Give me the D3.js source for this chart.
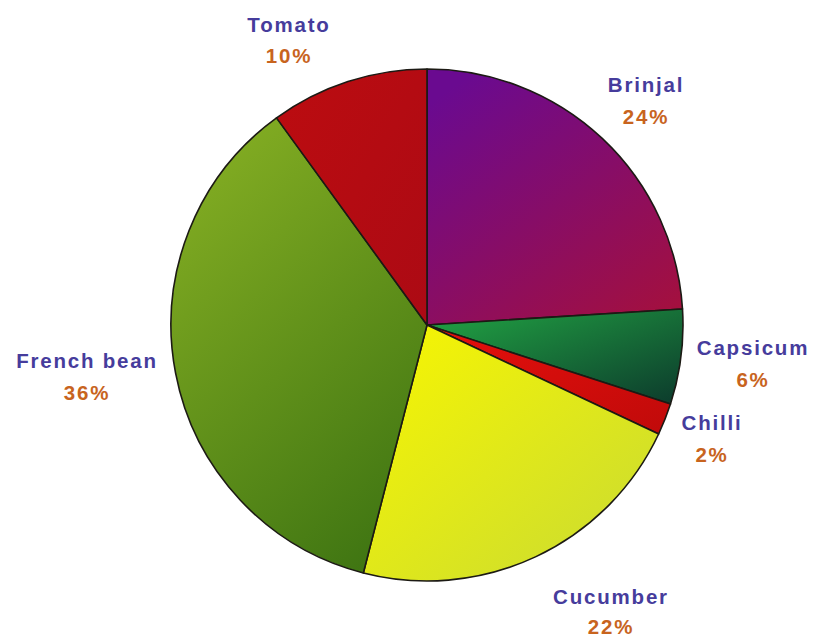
<!DOCTYPE html>
<html>
<head>
<meta charset="utf-8">
<script src="https://cdn.jsdelivr.net/npm/d3@7/dist/d3.min.js"></script>
<style>
  html, body { margin: 0; padding: 0; background: #ffffff; }
  svg { display: block; }
  .name { font-family: "Liberation Sans", Arial, sans-serif; font-weight: bold; font-size: 20.5px; letter-spacing: 1.8px; fill: #463c9c; }
  .pct  { font-family: "Liberation Sans", Arial, sans-serif; font-weight: bold; font-size: 20.5px; letter-spacing: 1.8px; fill: #c8641e; }
</style>
</head>
<body>
<script>
// Vegetable share, clockwise from 12 o'clock
const categories = ["Brinjal", "Capsicum", "Chilli", "Cucumber", "French bean", "Tomato"];
const values = [24, 6, 2, 22, 36, 10];
const percentLabels = ["24%", "6%", "2%", "22%", "36%", "10%"];

// Fill gradients per slice: [start colour, end colour]
const sliceColors = {
  "Brinjal":     ["#6a0a90", "#a4103e"],
  "Capsicum":    ["#22a644", "#0c3a2c"],
  "Chilli":      ["#e6100c", "#c00a0a"],
  "Cucumber":    ["#f8f600", "#c8da34"],
  "French bean": ["#82ac22", "#3e7412"],
  "Tomato":      ["#bc0c10", "#ac0a14"]
};
// Gradient direction per slice (x1,y1,x2,y2 as fractions of the bounding box)
const gradDir = {
  "Brinjal":     [0.2, 0.0, 0.9, 1.0],
  "Capsicum":    [0.0, 0.0, 1.0, 1.0],
  "Chilli":      [0.0, 0.0, 1.0, 1.0],
  "Cucumber":    [0.0, 0.0, 1.0, 1.0],
  "French bean": [0.3, 0.0, 0.8, 1.0],
  "Tomato":      [0.0, 0.0, 1.0, 1.0]
};
// Text anchor (centre x, baseline y of the name line) and gap to the percent line
const labelAt = {
  "Brinjal":     [646, 92, 32],
  "Capsicum":    [753, 355, 32],
  "Chilli":      [712, 430, 32],
  "Cucumber":    [611, 604, 30],
  "French bean": [87, 368, 32],
  "Tomato":      [289, 32, 31]
};

const W = 818, H = 639;
const cx = 427, cy = 325, R = 256;

const svg = d3.select("body").append("svg").attr("width", W).attr("height", H);
const defs = svg.append("defs");

const data = categories.map((c, i) => ({ name: c, value: values[i], pct: percentLabels[i] }));
const pie = d3.pie().value(d => d.value).sort(null).startAngle(0).endAngle(2 * Math.PI);
const arc = d3.arc().innerRadius(0).outerRadius(R);
const arcs = pie(data);

arcs.forEach((a, i) => {
  const dir = gradDir[a.data.name];
  const g = defs.append("linearGradient")
    .attr("id", "g" + i)
    .attr("x1", dir[0]).attr("y1", dir[1]).attr("x2", dir[2]).attr("y2", dir[3]);
  g.append("stop").attr("offset", "0%").attr("stop-color", sliceColors[a.data.name][0]);
  g.append("stop").attr("offset", "100%").attr("stop-color", sliceColors[a.data.name][1]);
});

const gPie = svg.append("g").attr("transform", `translate(${cx},${cy})`);
gPie.selectAll("path.slice")
  .data(arcs)
  .join("path")
  .attr("class", "slice")
  .attr("d", arc)
  .attr("fill", (d, i) => `url(#g${i})`)
  .attr("stroke", "#1c1a14")
  .attr("stroke-width", 1.6)
  .attr("stroke-linejoin", "round");

const gLab = svg.append("g");
const lab = gLab.selectAll("g.lab").data(data).join("g").attr("class", "lab")
  .attr("transform", d => `translate(${labelAt[d.name][0]},${labelAt[d.name][1]})`);
lab.append("text").attr("class", "name").attr("text-anchor", "middle").text(d => d.name);
lab.append("text").attr("class", "pct").attr("text-anchor", "middle")
  .attr("y", d => labelAt[d.name][2]).text(d => d.pct);
</script>
</body>
</html>
